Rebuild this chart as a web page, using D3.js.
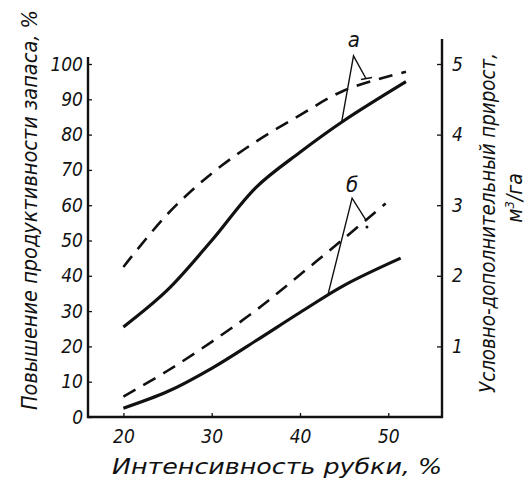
<!DOCTYPE html>
<html>
<head>
<meta charset="utf-8">
<script src="https://cdn.jsdelivr.net/npm/d3@7"></script>
<style>
  body { margin: 0; background: #fff; }
  text { font-family: "DejaVu Sans Condensed", "DejaVu Sans", sans-serif; font-stretch: condensed; font-style: italic; fill: #111; }
</style>
</head>
<body>
<script>
// intensity of cutting, % (x) and values (left scale, %)
var solidAX = [20, 25, 30, 35, 40, 45, 52];
var solidAY = [25.5, 36, 50, 65, 75, 84, 95];
var dashAX = [20, 25, 30, 35, 40, 45, 52];
var dashAY = [42.5, 57.5, 69, 78, 85.5, 92.5, 97.8];
var solidBX = [20, 25, 30, 35, 40, 45, 51.4];
var solidBY = [2.5, 7.2, 13.8, 21.6, 29.6, 37.3, 45];
var dashBX = [20, 25, 30, 35, 40, 45, 49.7];
var dashBY = [5.8, 13.1, 21.3, 30.2, 40.3, 50.6, 60.5];

var xTicks = [20, 30, 40, 50];
var leftTicks = [0, 10, 20, 30, 40, 50, 60, 70, 80, 90, 100];
var rightTicks = [1, 2, 3, 4, 5];

// leader lines: label, apex, end on solid curve, end on dashed curve
var leaderA = { label: 'а', lx: 46.1, ly: 104.8, ax: 46.06, ay: 102.3, sx: 44.72, sy: 83.6, dx: 47.47, dy: 95.9 };
var leaderB = { label: 'б', lx: 45.9, ly: 63.8, ax: 45.9, ay: 62, sx: 43.2, sy: 35, dx: 47.47, dy: 55.8 };

var width = 530, height = 485;
var svg = d3.select('body').append('svg')
  .attr('width', width).attr('height', height);

var x = d3.scaleLinear().domain([20, 50]).range([123.4, 388.3]);
var y = d3.scaleLinear().domain([0, 100]).range([417, 64]);
var y2 = d3.scaleLinear().domain([0, 5]).range([417, 64]);

var ink = '#111';

// frame lines
svg.append('line').attr('x1', 88).attr('x2', 88).attr('y1', 418).attr('y2', 57)
  .attr('stroke', ink).attr('stroke-width', 2.4);
svg.append('line').attr('x1', 442).attr('x2', 442).attr('y1', 418).attr('y2', 39)
  .attr('stroke', ink).attr('stroke-width', 2.4);
svg.append('line').attr('x1', 87).attr('x2', 443).attr('y1', 417).attr('y2', 417)
  .attr('stroke', ink).attr('stroke-width', 2.6);

function styleAxis(g) {
  g.select('.domain').remove();
  g.selectAll('.tick line').attr('stroke', ink).attr('stroke-width', 1.3);
  g.selectAll('.tick text').style('font-size', '19px').attr('fill', ink);
}

svg.append('g').attr('transform', 'translate(88,0)')
  .call(d3.axisLeft(y).tickValues(leftTicks).tickSize(-4).tickPadding(5))
  .call(styleAxis);

svg.append('g').attr('transform', 'translate(442,0)')
  .call(d3.axisRight(y2).tickValues(rightTicks).tickFormat(d3.format('d')).tickSize(-5).tickPadding(10))
  .call(styleAxis);

svg.append('g').attr('transform', 'translate(0,417)')
  .call(d3.axisBottom(x).tickValues(xTicks).tickSize(-4).tickPadding(13))
  .call(styleAxis);

// curves
var line = d3.line().curve(d3.curveCatmullRom.alpha(0.5))
  .x(function(d) { return x(d[0]); })
  .y(function(d) { return y(d[1]); });

function drawSeries(xs, ys, dashed) {
  svg.append('path')
    .datum(d3.zip(xs, ys))
    .attr('d', line)
    .attr('fill', 'none')
    .attr('stroke', ink)
    .attr('stroke-width', dashed ? 2.6 : 3.2)
    .attr('stroke-dasharray', dashed ? '14,9' : null);
}
drawSeries(solidAX, solidAY, false);
drawSeries(dashAX, dashAY, true);
drawSeries(solidBX, solidBY, false);
drawSeries(dashBX, dashBY, true);

// leaders with letters
[leaderA, leaderB].forEach(function(l) {
  svg.append('polyline')
    .attr('points', [[x(l.sx), y(l.sy)], [x(l.ax), y(l.ay)], [x(l.dx), y(l.dy)]].join(' '))
    .attr('fill', 'none').attr('stroke', ink).attr('stroke-width', 1.4);
  svg.append('text')
    .attr('x', x(l.lx)).attr('y', y(l.ly))
    .attr('text-anchor', 'middle')
    .style('font-size', '22px')
    .text(l.label);
});
// small bar at the end of the upper leader and a dot at the lower one
svg.append('line')
  .attr('x1', x(leaderA.dx) - 5).attr('y1', y(leaderA.dy) + 1)
  .attr('x2', x(leaderA.dx) + 6).attr('y2', y(leaderA.dy) - 1)
  .attr('stroke', ink).attr('stroke-width', 1.6);
svg.append('circle')
  .attr('cx', x(leaderB.dx) + 1).attr('cy', y(leaderB.dy) + 7).attr('r', 1.5)
  .attr('fill', ink);

// axis titles
svg.append('text')
  .attr('transform', 'translate(37,410) rotate(-90)')
  .attr('textLength', 400).attr('lengthAdjust', 'spacingAndGlyphs')
  .style('font-size', '21px')
  .text('Повышение продуктивности запаса, %');

svg.append('text')
  .attr('transform', 'translate(495,393) rotate(-90)')
  .attr('textLength', 340).attr('lengthAdjust', 'spacingAndGlyphs')
  .style('font-size', '21px')
  .text('Условно-дополнительный прирост,');

var t2 = svg.append('text')
  .attr('transform', 'translate(522,198) rotate(-90)')
  .attr('text-anchor', 'middle')
  .style('font-size', '21px');
t2.append('tspan').text('м');
t2.append('tspan').attr('dy', -8).style('font-size', '13px').text('3');
t2.append('tspan').attr('dy', 8).text('/га');

svg.append('text')
  .attr('x', 112).attr('y', 474)
  .attr('textLength', 330).attr('lengthAdjust', 'spacingAndGlyphs')
  .style('font-size', '21px')
  .text('Интенсивность рубки, %');
</script>
</body>
</html>
